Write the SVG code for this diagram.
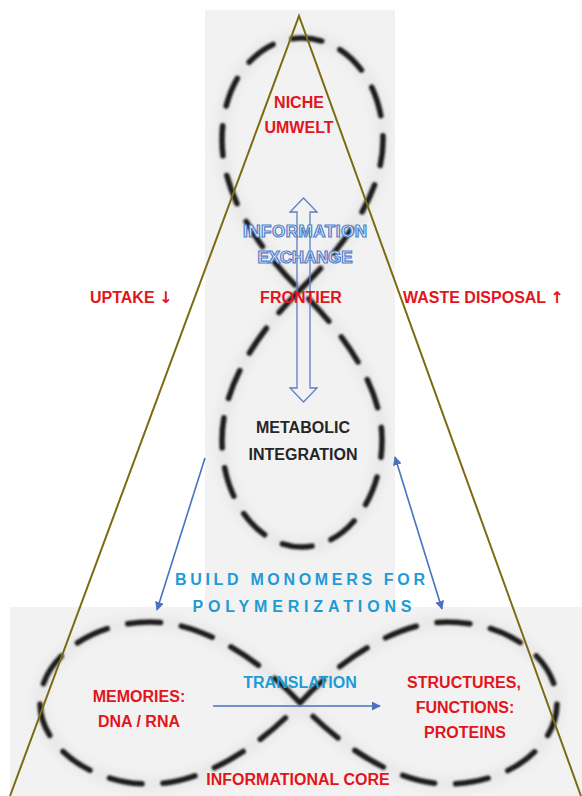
<svg xmlns="http://www.w3.org/2000/svg" width="582" height="796" viewBox="0 0 582 796">
<style>
.panel{fill:#f2f2f2}
.loop{fill:none;stroke:#1e1e1e;stroke-width:5.5;stroke-linecap:round}
.lv{stroke-dasharray:30 20}
.lh{stroke-dasharray:33 21}
.halo{fill:none;stroke:#d8d8d8;stroke-width:14;opacity:0.35}
.tri{fill:none;stroke:#7d6b14;stroke-width:2}
.red{font-family:"Liberation Sans",Arial,sans-serif;font-weight:bold;font-size:16px;fill:#e3151c}
.dark{font-family:"Liberation Sans",Arial,sans-serif;font-weight:bold;font-size:16px;fill:#262626}
.cyan{font-family:"Liberation Sans",Arial,sans-serif;font-weight:bold;font-size:16px;fill:#1e9bd7}
.outl{font-family:"Liberation Sans",Arial,sans-serif;font-weight:bold;font-size:17px;fill:#eef3fb;stroke:#4f80cc;stroke-width:1.2}
.arr{font-family:"DejaVu Sans",sans-serif;font-weight:bold}
.conn{fill:none;stroke:#4a70c0;stroke-width:1.6}
.mid{text-anchor:middle}
</style>
<defs>
<filter id="soft" x="-10%" y="-10%" width="120%" height="120%"><feGaussianBlur stdDeviation="0.9"/></filter>
<filter id="glow" x="-10%" y="-10%" width="120%" height="120%"><feGaussianBlur stdDeviation="5"/></filter>
<marker id="ah" viewBox="0 0 10 10" refX="9" refY="5" markerWidth="9" markerHeight="9" markerUnits="userSpaceOnUse" orient="auto-start-reverse">
<path d="M0,0 L10,5 L0,10 Z" fill="#4a70c0"/>
</marker>
</defs>
<rect width="582" height="796" fill="#ffffff"/>
<g id="panels">
<rect class="panel" x="205" y="10" width="190" height="597"/>
<rect class="panel" x="10" y="607" width="572" height="189"/>
</g>
<g id="loops">
<path class="halo" filter="url(#glow)" d="M300,290 C335,255 383,200 383,140 C383,80 345,38 302,38 C258,38 222,80 222,140 C222,200 265,255 300,290 C335,325 382,380 382,440 C382,500 345,547 302,547 C258,547 222,500 222,440 C222,380 265,325 300,290 Z"/>
<path class="halo" filter="url(#glow)" d="M300,703 C330,670 390,622 447,622 C510,622 557,660 557,703 C557,746 510,784 447,784 C390,784 330,736 300,703 C270,670 210,622 150,622 C90,622 40,660 40,703 C40,746 90,784 150,784 C210,784 270,736 300,703 Z"/>
<path id="loop-vertical" class="loop lv" filter="url(#soft)" d="M300,290 C335,255 383,200 383,140 C383,80 345,38 302,38 C258,38 222,80 222,140 C222,200 265,255 300,290 C335,325 382,380 382,440 C382,500 345,547 302,547 C258,547 222,500 222,440 C222,380 265,325 300,290 Z"/>
<path id="loop-horizontal" class="loop lh" filter="url(#soft)" d="M300,703 C330,670 390,622 447,622 C510,622 557,660 557,703 C557,746 510,784 447,784 C390,784 330,736 300,703 C270,670 210,622 150,622 C90,622 40,660 40,703 C40,746 90,784 150,784 C210,784 270,736 300,703 Z"/>
</g>
<g id="connectors">
<path id="info-arrow" d="M303.5,198 L317,212 L310,212 L310,388 L317,388 L303.5,402 L290,388 L297,388 L297,212 L290,212 Z" fill="none" stroke="#5b7fc0" stroke-width="1.3"/>
<line class="conn" x1="205" y1="458" x2="157" y2="610" marker-end="url(#ah)"/>
<line class="conn" x1="395" y1="457" x2="442" y2="609" marker-start="url(#ah)" marker-end="url(#ah)"/>
<line class="conn" x1="213" y1="706" x2="380" y2="706" marker-end="url(#ah)"/>
</g>
<g id="triangle">
<polyline class="tri" points="10,796 299,16 581,796"/>
</g>
<g id="niche"><text class="red mid" x="299" y="108">NICHE</text><text class="red mid" x="299" y="133">UMWELT</text></g>
<g id="information-exchange"><text class="outl mid" x="305" y="237" textLength="124" lengthAdjust="spacing">INFORMATION</text><text class="outl mid" x="305" y="263" textLength="95" lengthAdjust="spacing">EXCHANGE</text></g>
<g id="uptake"><text class="red" x="90" y="303">UPTAKE <tspan class="arr">↓</tspan></text></g>
<g id="frontier"><text class="red mid" x="301" y="303">FRONTIER</text></g>
<g id="waste"><text class="red" x="403" y="303">WASTE DISPOSAL <tspan class="arr">↑</tspan></text></g>
<g id="metabolic"><text class="dark mid" x="303" y="433">METABOLIC</text><text class="dark mid" x="303" y="460">INTEGRATION</text></g>
<g id="build-monomers"><text class="cyan mid" x="300" y="585" textLength="250" lengthAdjust="spacing">BUILD MONOMERS FOR</text><text class="cyan mid" x="302" y="612" textLength="219" lengthAdjust="spacing">POLYMERIZATIONS</text></g>
<g id="translation"><text class="cyan mid" x="300" y="688">TRANSLATION</text></g>
<g id="memories"><text class="red mid" x="139" y="702">MEMORIES:</text><text class="red mid" x="139" y="727">DNA / RNA</text></g>
<g id="proteins"><text class="red mid" x="464" y="688">STRUCTURES,</text><text class="red mid" x="465" y="713">FUNCTIONS:</text><text class="red mid" x="465" y="738">PROTEINS</text></g>
<g id="informational-core"><text class="red mid" x="298" y="785">INFORMATIONAL CORE</text></g>
</svg>
